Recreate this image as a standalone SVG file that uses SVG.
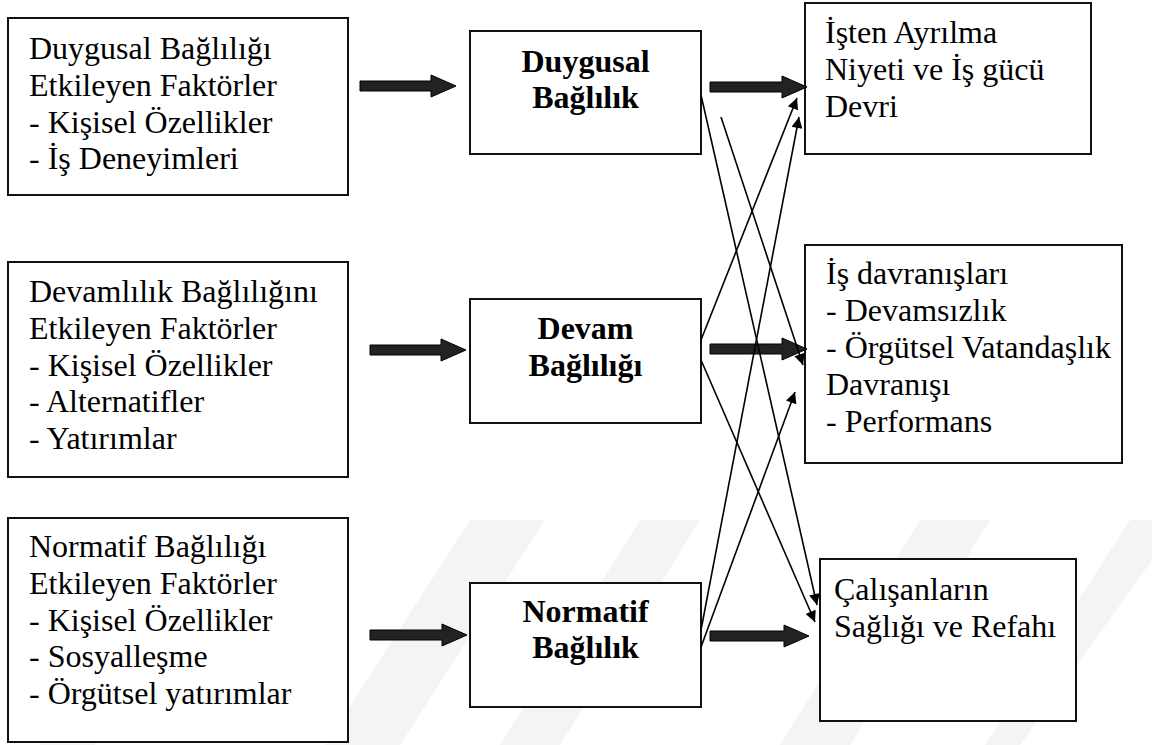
<svg xmlns="http://www.w3.org/2000/svg" width="1152" height="745" viewBox="0 0 1152 745">
  <defs>
    <style>
      .box { fill: #fff; stroke: #111; stroke-width: 2; }
      .t { font-family: "Liberation Serif", "Times New Roman", serif; font-size: 32px; fill: #000; }
      .bold { font-weight: bold; text-anchor: middle; }
      .block { fill: #222; stroke: #000; stroke-width: 1; }
      .thin { fill: none; stroke: #000; stroke-width: 1.6; marker-end: url(#tip); }
      .wm { fill: #f4f4f4; }
    </style>
    <marker id="tip" viewBox="0 0 10 10" refX="10" refY="5" markerUnits="userSpaceOnUse" markerWidth="17" markerHeight="11" orient="auto">
      <path d="M0,0 L10,5 L0,10 Z" fill="#000"/>
    </marker>
  </defs>
  <rect width="1152" height="745" fill="#fff"/>

  <!-- faint background watermark bands -->
  <g id="watermark">
    <polygon class="wm" points="180,520 235,520 95,745 40,745"/>
    <polygon class="wm" points="470,520 545,520 400,745 325,745"/>
    <polygon class="wm" points="640,520 700,520 560,745 500,745"/>
    <polygon class="wm" points="920,520 990,520 850,745 780,745"/>
    <polygon class="wm" points="1130,520 1152,520 1152,560 1020,745 985,745"/>
  </g>

  <!-- left column: factor boxes -->
  <g id="duygusal-faktorler">
    <rect class="box" x="8" y="18" width="340" height="177"/>
    <text class="t" x="29" y="59">Duygusal Bağlılığı</text>
    <text class="t" x="29" y="95.8">Etkileyen Faktörler</text>
    <text class="t" x="29" y="132.6">- Kişisel Özellikler</text>
    <text class="t" x="29" y="169.4">- İş Deneyimleri</text>
  </g>
  <g id="devamlilik-faktorler">
    <rect class="box" x="8" y="262" width="340" height="215"/>
    <text class="t" x="29" y="302">Devamlılık Bağlılığını</text>
    <text class="t" x="29" y="338.8">Etkileyen Faktörler</text>
    <text class="t" x="29" y="375.6">- Kişisel Özellikler</text>
    <text class="t" x="29" y="412.4">- Alternatifler</text>
    <text class="t" x="29" y="449.2">- Yatırımlar</text>
  </g>
  <g id="normatif-faktorler">
    <rect class="box" x="8" y="518" width="340" height="224"/>
    <text class="t" x="29" y="557">Normatif Bağlılığı</text>
    <text class="t" x="29" y="593.8">Etkileyen Faktörler</text>
    <text class="t" x="29" y="630.6">- Kişisel Özellikler</text>
    <text class="t" x="29" y="667.4">- Sosyalleşme</text>
    <text class="t" x="29" y="704.2">- Örgütsel yatırımlar</text>
  </g>

  <!-- middle column: commitment types -->
  <g id="duygusal-baglilik">
    <rect class="box" x="470" y="31" width="231" height="123"/>
    <text class="t bold" x="585.5" y="72">Duygusal</text>
    <text class="t bold" x="585.5" y="108">Bağlılık</text>
  </g>
  <g id="devam-bagliligi">
    <rect class="box" x="470" y="299" width="231" height="124"/>
    <text class="t bold" x="585.5" y="339">Devam</text>
    <text class="t bold" x="585.5" y="376">Bağlılığı</text>
  </g>
  <g id="normatif-baglilik">
    <rect class="box" x="470" y="583" width="231" height="124"/>
    <text class="t bold" x="585.5" y="622">Normatif</text>
    <text class="t bold" x="585.5" y="658">Bağlılık</text>
  </g>

  <!-- right column: outcomes -->
  <g id="isten-ayrilma">
    <rect class="box" x="805" y="3" width="286" height="151"/>
    <text class="t" x="825" y="43">İşten Ayrılma</text>
    <text class="t" x="825" y="80">Niyeti ve İş gücü</text>
    <text class="t" x="825" y="117">Devri</text>
  </g>
  <g id="is-davranislari">
    <rect class="box" x="805" y="245" width="317" height="218"/>
    <text class="t" x="826" y="284">İş davranışları</text>
    <text class="t" x="826" y="321">- Devamsızlık</text>
    <text class="t" x="826" y="358">- Örgütsel Vatandaşlık</text>
    <text class="t" x="826" y="395">Davranışı</text>
    <text class="t" x="826" y="432">- Performans</text>
  </g>
  <g id="calisanlarin-sagligi">
    <rect class="box" x="820" y="559" width="256" height="162"/>
    <text class="t" x="834" y="600">Çalışanların</text>
    <text class="t" x="834" y="637">Sağlığı ve Refahı</text>
  </g>

  <!-- connectors -->
  <g id="connectors">
    <!-- block arrows between columns -->
    <path class="block" d="M360,81 H431 V75 L456,86 L431,97 V91 H360 Z"/>
    <path class="block" d="M710,82 H782 V76 L807,87 L782,98 V92 H710 Z"/>
    <path class="block" d="M370,345 H441 V339 L466,350 L441,361 V355 H370 Z"/>
    <path class="block" d="M710,344 H782 V338 L807,349 L782,360 V354 H710 Z"/>
    <path class="block" d="M370,630 H442 V624 L467,635 L442,646 V640 H370 Z"/>
    <path class="block" d="M710,631 H784 V625 L809,636 L784,647 V641 H710 Z"/>
    <!-- thin cross links -->
    <line class="thin" x1="701" y1="95" x2="817" y2="605"/>
    <line class="thin" x1="721" y1="117" x2="803" y2="365"/>
    <line class="thin" x1="701" y1="340" x2="797" y2="98"/>
    <line class="thin" x1="701" y1="630" x2="799" y2="117"/>
    <line class="thin" x1="701" y1="360" x2="815" y2="622"/>
    <line class="thin" x1="701" y1="647" x2="795" y2="392"/>
  </g>
</svg>
